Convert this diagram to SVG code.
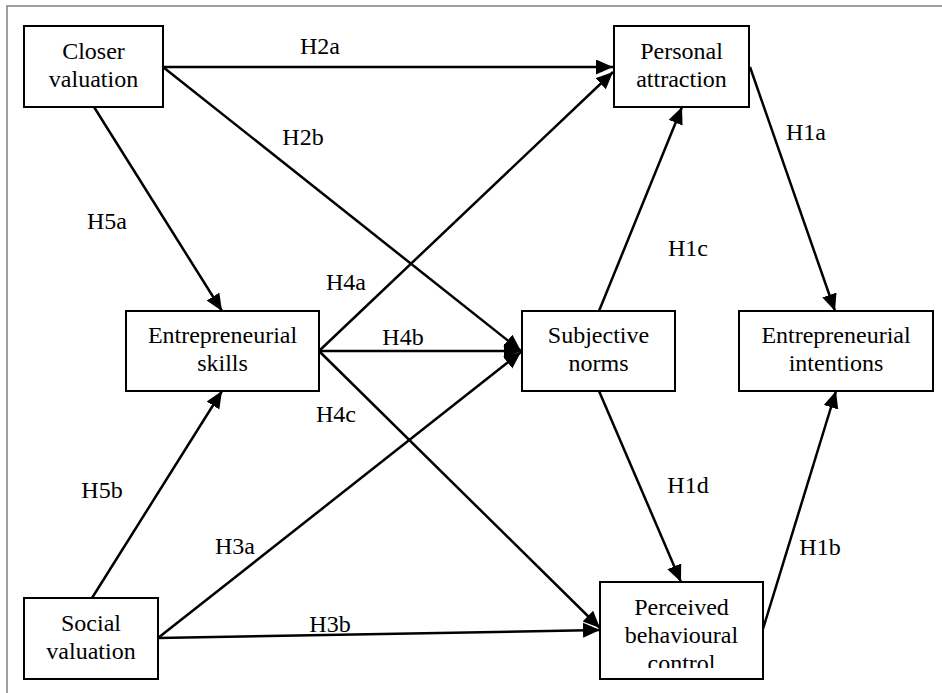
<svg xmlns="http://www.w3.org/2000/svg" width="942" height="693" viewBox="0 0 942 693">
<defs>
<marker id="ah" markerUnits="userSpaceOnUse" markerWidth="20" markerHeight="18" refX="17" refY="7.5" orient="auto">
<path d="M0,0 L17,7.5 L0,15 z" fill="#000"/>
</marker>
<clipPath id="pbcClip"><rect x="598" y="580" width="168" height="88"/></clipPath>
</defs>
<rect width="942" height="693" fill="#fff"/>
<path d="M7,693 L7,6 L942,6" fill="none" stroke="#808080" stroke-width="1.5"/>

<g id="connectors" fill="none" stroke="#000" stroke-width="2.5">
<line x1="163" y1="67" x2="613" y2="67" marker-end="url(#ah)"/>
<line x1="163" y1="67" x2="521" y2="351" marker-end="url(#ah)"/>
<line x1="94" y1="107" x2="222" y2="311" marker-end="url(#ah)"/>
<line x1="319" y1="351" x2="613" y2="72" marker-end="url(#ah)"/>
<line x1="319" y1="351" x2="521" y2="351" marker-end="url(#ah)"/>
<line x1="319" y1="351" x2="600" y2="628" marker-end="url(#ah)"/>
<line x1="158" y1="638" x2="521" y2="352" marker-end="url(#ah)"/>
<line x1="158" y1="638" x2="600" y2="630" marker-end="url(#ah)"/>
<line x1="92" y1="598" x2="222" y2="391" marker-end="url(#ah)"/>
<line x1="599" y1="311" x2="682" y2="107" marker-end="url(#ah)"/>
<line x1="599" y1="391" x2="681" y2="582" marker-end="url(#ah)"/>
<line x1="750" y1="67" x2="835" y2="311" marker-end="url(#ah)"/>
<line x1="763" y1="629" x2="836" y2="391" marker-end="url(#ah)"/>
</g>
<g id="labels" fill="#000" stroke="none" text-anchor="middle">
<text x="320" y="54" style="font-family:'Liberation Serif',serif;font-size:24px">H2a</text>
<text x="303" y="145" style="font-family:'Liberation Serif',serif;font-size:24px">H2b</text>
<text x="107" y="229" style="font-family:'Liberation Serif',serif;font-size:24px">H5a</text>
<text x="346" y="290" style="font-family:'Liberation Serif',serif;font-size:24px">H4a</text>
<text x="403" y="345" style="font-family:'Liberation Serif',serif;font-size:24px">H4b</text>
<text x="336" y="422" style="font-family:'Liberation Serif',serif;font-size:24px">H4c</text>
<text x="102" y="498" style="font-family:'Liberation Serif',serif;font-size:24px">H5b</text>
<text x="235" y="554" style="font-family:'Liberation Serif',serif;font-size:24px">H3a</text>
<text x="330" y="632" style="font-family:'Liberation Serif',serif;font-size:24px">H3b</text>
<text x="688" y="256" style="font-family:'Liberation Serif',serif;font-size:24px">H1c</text>
<text x="806" y="140" style="font-family:'Liberation Serif',serif;font-size:24px">H1a</text>
<text x="688" y="493" style="font-family:'Liberation Serif',serif;font-size:24px">H1d</text>
<text x="820" y="555" style="font-family:'Liberation Serif',serif;font-size:24px">H1b</text>
</g>

<g id="closer-valuation" text-anchor="middle">
<rect x="24" y="26" width="139" height="81" fill="#fff" stroke="#000" stroke-width="2"/>
<text x="93.5" y="59" style="font-family:'Liberation Serif',serif;font-size:24px">Closer</text>
<text x="93.5" y="87" style="font-family:'Liberation Serif',serif;font-size:24px">valuation</text>
</g>
<g id="personal-attraction" text-anchor="middle">
<rect x="614" y="26" width="135" height="81" fill="#fff" stroke="#000" stroke-width="2"/>
<text x="681.5" y="59" style="font-family:'Liberation Serif',serif;font-size:24px">Personal</text>
<text x="681.5" y="87" style="font-family:'Liberation Serif',serif;font-size:24px">attraction</text>
</g>
<g id="entrepreneurial-skills" text-anchor="middle">
<rect x="126" y="311" width="193" height="80" fill="#fff" stroke="#000" stroke-width="2"/>
<text x="222.5" y="343" style="font-family:'Liberation Serif',serif;font-size:24px">Entrepreneurial</text>
<text x="222.5" y="371" style="font-family:'Liberation Serif',serif;font-size:24px">skills</text>
</g>
<g id="subjective-norms" text-anchor="middle">
<rect x="522" y="311" width="153" height="80" fill="#fff" stroke="#000" stroke-width="2"/>
<text x="598.5" y="343" style="font-family:'Liberation Serif',serif;font-size:24px">Subjective</text>
<text x="598.5" y="371" style="font-family:'Liberation Serif',serif;font-size:24px">norms</text>
</g>
<g id="entrepreneurial-intentions" text-anchor="middle">
<rect x="739" y="311" width="194" height="80" fill="#fff" stroke="#000" stroke-width="2"/>
<text x="836" y="343" style="font-family:'Liberation Serif',serif;font-size:24px">Entrepreneurial</text>
<text x="836" y="371" style="font-family:'Liberation Serif',serif;font-size:24px">intentions</text>
</g>
<g id="social-valuation" text-anchor="middle">
<rect x="24" y="598" width="134" height="81" fill="#fff" stroke="#000" stroke-width="2"/>
<text x="91" y="631" style="font-family:'Liberation Serif',serif;font-size:24px">Social</text>
<text x="91" y="659" style="font-family:'Liberation Serif',serif;font-size:24px">valuation</text>
</g>
<g id="perceived-behavioural-control" text-anchor="middle">
<rect x="600" y="582" width="163" height="97" fill="#fff" stroke="#000" stroke-width="2"/>
<g clip-path="url(#pbcClip)">
<text x="681.5" y="615" style="font-family:'Liberation Serif',serif;font-size:24px">Perceived</text>
<text x="681.5" y="643" style="font-family:'Liberation Serif',serif;font-size:24px">behavioural</text>
<text x="681.5" y="671" style="font-family:'Liberation Serif',serif;font-size:24px">control</text>
</g>
</g>
</svg>
